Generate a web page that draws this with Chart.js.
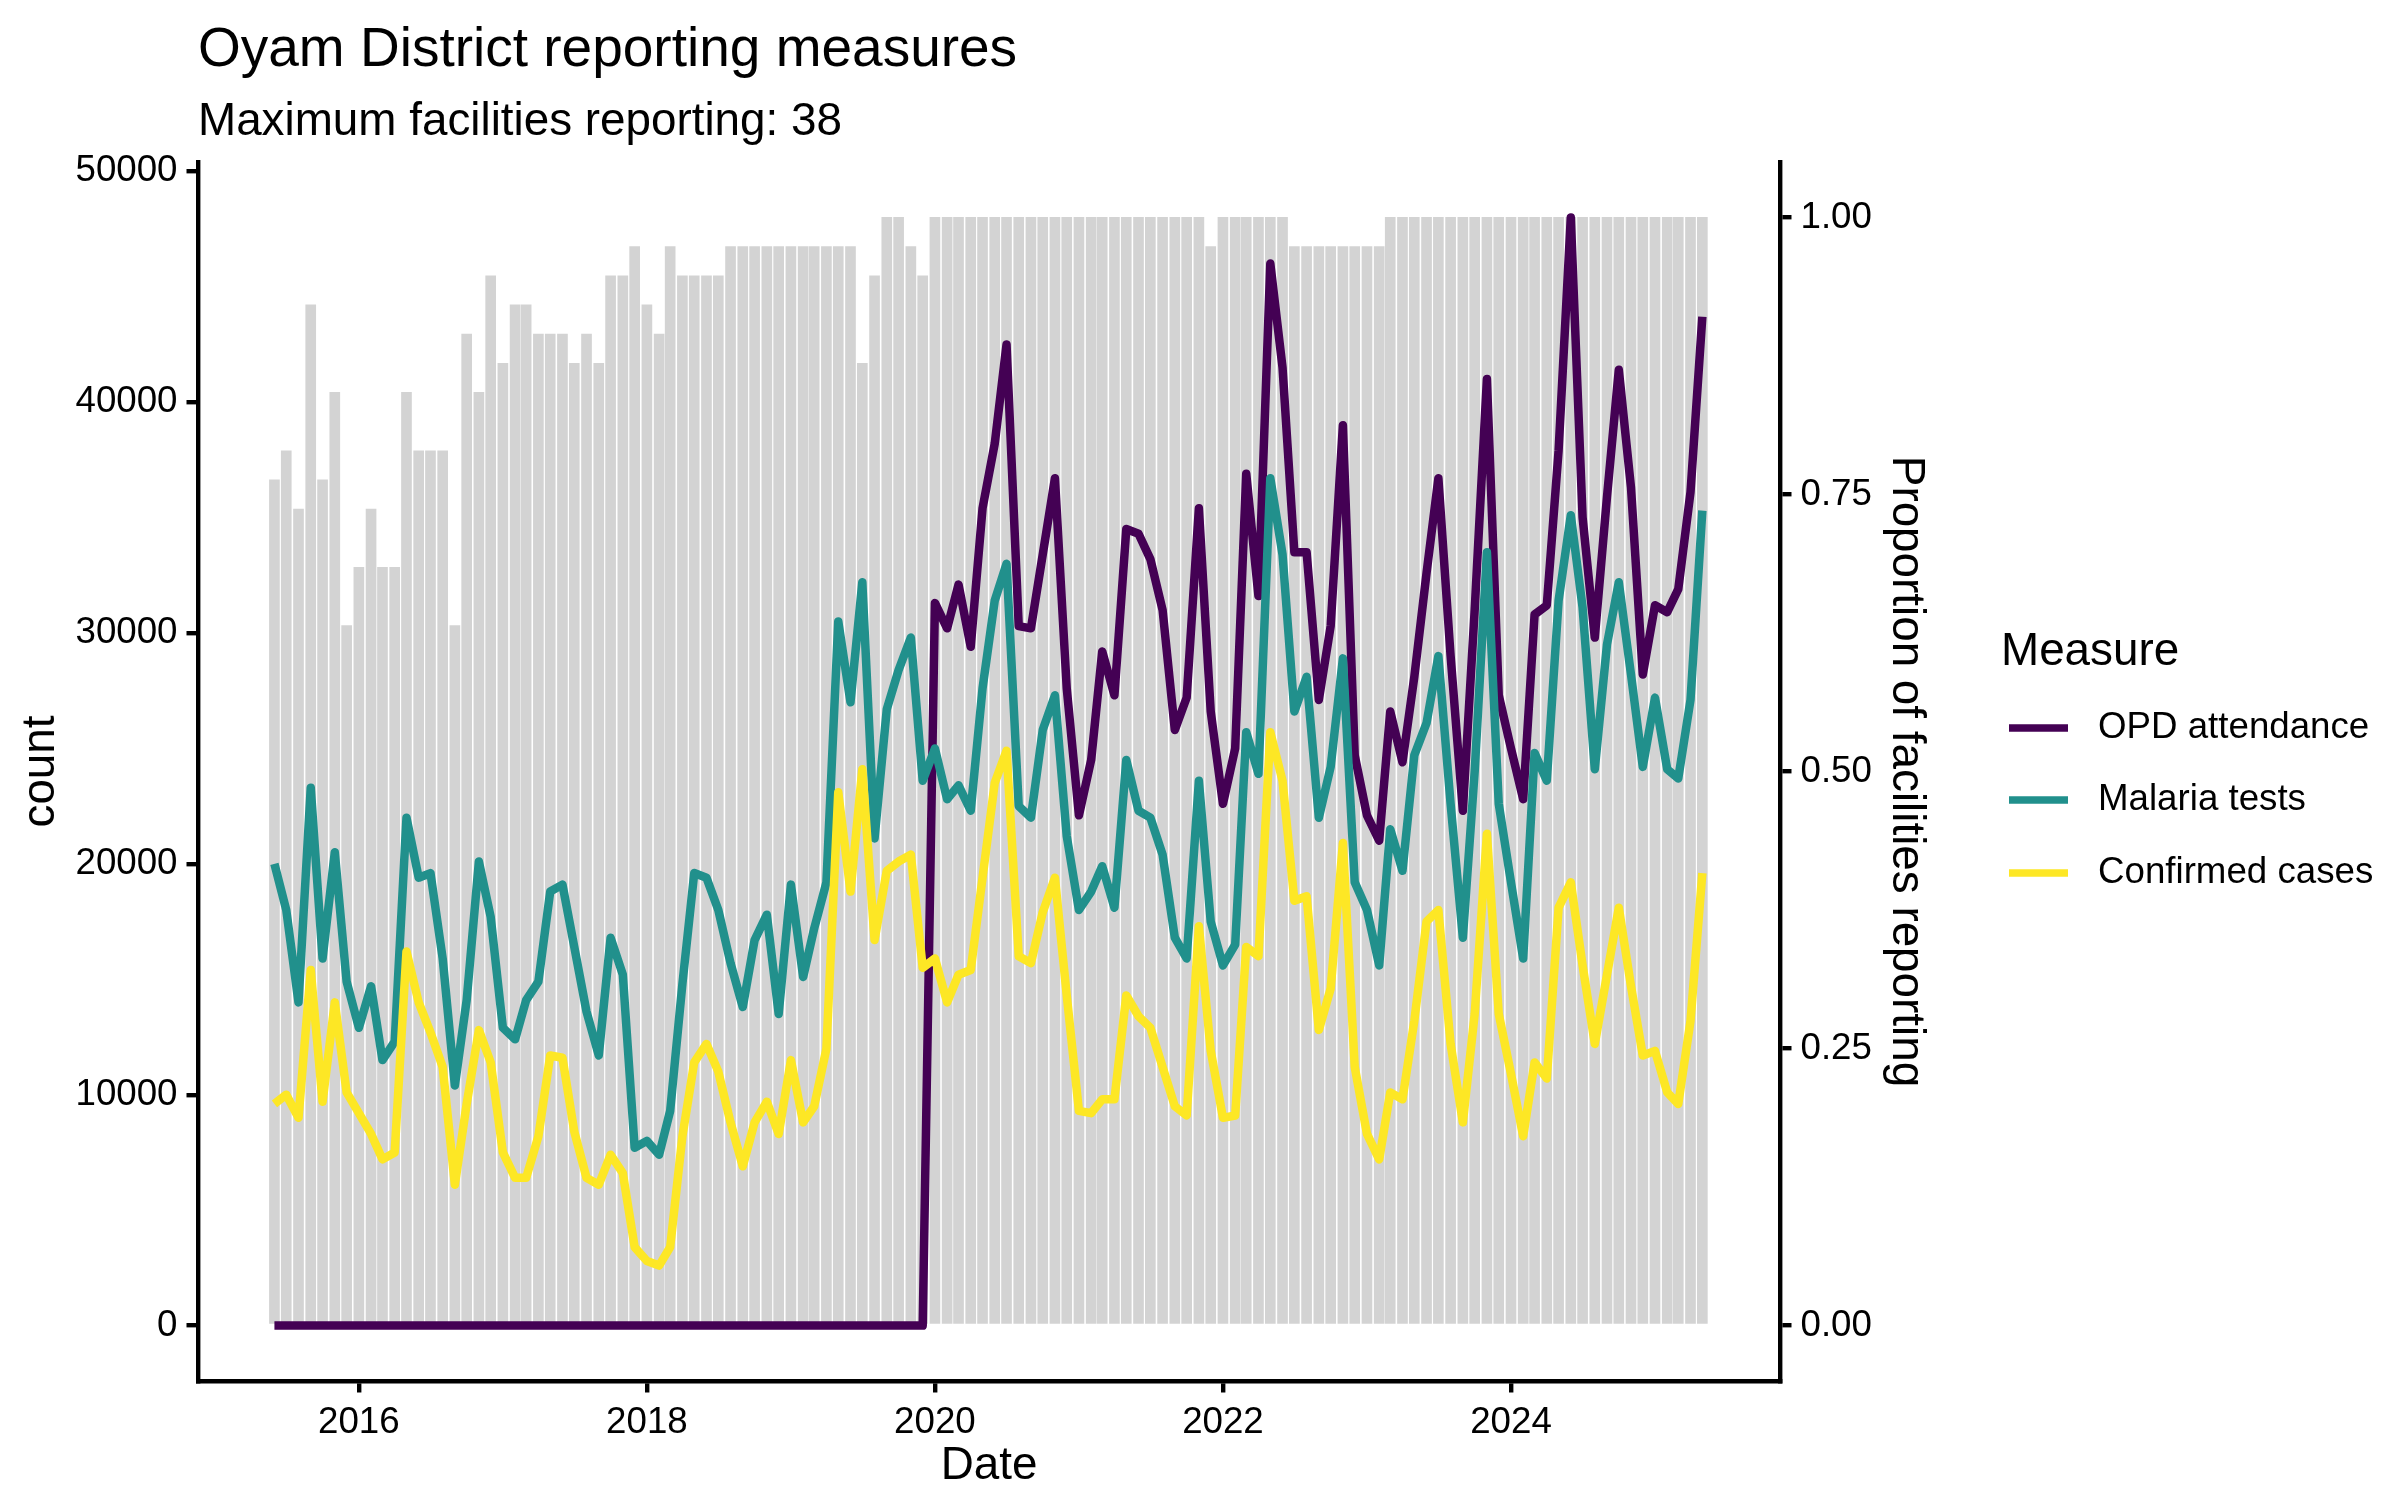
<!DOCTYPE html>
<html>
<head>
<meta charset="utf-8">
<script src="https://cdn.jsdelivr.net/npm/chart.js@4.4.1/dist/chart.umd.min.js"></script>
<style>
  html, body { margin: 0; padding: 0; background: #ffffff; }
  #wrap { width: 2400px; height: 1500px; }
</style>
</head>
<body>
<div id="wrap"><canvas id="c" width="2400" height="1500"></canvas></div>
<script>
// ---------------- data ----------------
const titleText = 'Oyam District reporting measures';
const subtitleText = 'Maximum facilities reporting: 38';
const maxFacilities = 38;
const seriesNames = ['OPD attendance', 'Malaria tests', 'Confirmed cases'];
const seriesColors = ['#440154', '#21908C', '#FDE725'];
const xTickYears = [2016, 2018, 2020, 2022, 2024];
const yTicksLeft = [0, 10000, 20000, 30000, 40000, 50000];
const yTicksRight = [0, 0.25, 0.5, 0.75, 1.0];

// months 2015-06 .. 2025-05
const firstYear = 2015, firstMonth = 6, monthCount = 120;
const months = [];
for (let i = 0; i < monthCount; i++) {
  const t = firstMonth - 1 + i;
  const y = firstYear + Math.floor(t / 12);
  const m = (t % 12) + 1;
  months.push(y + '-' + String(m).padStart(2, '0'));
}

const facilitiesReporting = [
  29,30,28,35,29,32,24,26,28,26,
  26,32,30,30,30,24,34,32,36,33,
  35,35,34,34,34,33,34,33,36,36,
  37,35,34,37,36,36,36,36,37,37,
  37,37,37,37,37,37,37,37,37,33,
  36,38,38,37,36,38,38,38,38,38,
  38,38,38,38,38,38,38,38,38,38,
  38,38,38,38,38,38,38,38,37,38,
  38,38,38,38,38,37,37,37,37,37,
  37,37,37,38,38,38,38,38,38,38,
  38,38,38,38,38,38,38,38,38,38,
  38,38,38,38,38,38,38,38,38,38
];

const opdAttendance = [
  0,0,0,0,0,0,0,0,0,0,
  0,0,0,0,0,0,0,0,0,0,
  0,0,0,0,0,0,0,0,0,0,
  0,0,0,0,0,0,0,0,0,0,
  0,0,0,0,0,0,0,0,0,0,
  0,0,0,0,0,31300,30200,32100,29400,35400,
  38200,42500,30300,30200,33400,36700,27600,22100,24500,29200,
  27300,34500,34300,33200,31000,25800,27200,35400,26600,22600,
  25000,36900,31600,46000,41500,33500,33500,27100,30300,39000,
  24700,22100,21000,26600,24400,28100,32600,36700,29000,22300,
  31000,41000,27300,25000,22800,30800,31200,37900,48000,35000,
  29800,35900,41400,36300,28200,31200,30900,31900,36100,43700
];

const malariaTests = [
  20000,18000,14000,23300,15900,20500,14900,12900,14700,11500,
  12300,22000,19400,19600,15900,10400,14100,20100,17700,12900,
  12400,14100,14900,18800,19100,16400,13600,11700,16800,15200,
  7700,8000,7400,9300,14800,19600,19400,18000,15700,13800,
  16700,17800,13500,19100,15100,17200,19200,30500,27000,32200,
  21100,26700,28400,29800,23600,25000,22800,23400,22300,27600,
  31400,33000,22500,22000,25800,27300,21200,18000,18800,19900,
  18100,24500,22300,22000,20400,16800,15900,23600,17500,15600,
  16500,25700,23900,36700,33400,26600,28100,22000,24200,28900,
  19200,18000,15600,21500,19700,24700,26100,29000,22600,16800,
  24000,33500,22600,19200,15900,24800,23600,31400,35100,31100,
  24100,29500,32200,28200,24200,27200,24100,23700,27100,35300
];

const confirmedCases = [
  9600,10000,9000,15400,9700,14000,10100,9200,8300,7200,
  7500,16200,14000,12700,11200,6100,9600,12800,11400,7500,
  6400,6400,8200,11700,11600,8400,6400,6100,7400,6600,
  3400,2800,2600,3400,8200,11400,12200,11000,8800,6900,
  8800,9700,8300,11500,8800,9500,12000,23100,18800,24100,
  16700,19700,20100,20400,15500,15900,14000,15200,15400,19400,
  23500,24900,16000,15700,17900,19400,14300,9300,9200,9800,
  9800,14300,13400,12900,11200,9500,9100,17300,11900,9000,
  9100,16400,16000,25700,23600,18400,18600,12800,14600,20900,
  11200,8300,7200,10100,9800,13200,17500,18000,12200,8800,
  13500,21300,13500,10900,8200,11400,10700,18100,19200,15600,
  12200,15200,18100,14700,11700,11900,10100,9600,13200,19600
];

// ---------------- helpers ----------------
function monthToYearFraction(s) {
  const y = +s.slice(0, 4), m = +s.slice(5, 7);
  const start = Date.UTC(y, 0, 1), end = Date.UTC(y + 1, 0, 1);
  return y + (Date.UTC(y, m - 1, 1) - start) / (end - start);
}
const xs = months.map(monthToYearFraction);
const pts = arr => arr.map((v, i) => ({ x: xs[i], y: v }));

const FONT = '"Liberation Sans", Arial, Helvetica, sans-serif';
const PLOT_LEFT = 198, PLOT_RIGHT = 1780, PLOT_TOP = 162, PLOT_BOTTOM = 1381;
const Y_MIN = -2400, Y_MAX = 50400, RATIO = 48000;
const AXIS_W = 4.4, TICK_LEN = 11.5, LINE_W = 8.5;

const axisCommon = {
  grid: { display: true, drawOnChartArea: false, drawTicks: true, tickLength: TICK_LEN,
          lineWidth: AXIS_W, tickWidth: AXIS_W, tickColor: '#000', color: '#000', offset: false },
  border: { display: true, color: '#000', width: AXIS_W },
};

const textPlugin = {
  id: 'ggtexts',
  afterDraw(chart) {
    const ctx = chart.ctx;
    const ca = chart.chartArea;
    ctx.save();
    ctx.fillStyle = '#000';
    ctx.textAlign = 'left';
    ctx.textBaseline = 'alphabetic';
    ctx.font = '55px ' + FONT;
    ctx.fillText(titleText, 198, 66);
    ctx.font = '45.8px ' + FONT;
    ctx.fillText(subtitleText, 198, 135);

    // axis titles
    ctx.textAlign = 'center';
    ctx.textBaseline = 'middle';
    ctx.font = '45.8px ' + FONT;
    ctx.fillText('Date', (ca.left + ca.right) / 2, 1466);
    const midY = (ca.top + ca.bottom) / 2;
    ctx.save();
    ctx.translate(41, midY);
    ctx.rotate(-Math.PI / 2);
    ctx.fillText('count', 0, 0);
    ctx.restore();
    ctx.save();
    ctx.translate(1906, midY);
    ctx.rotate(Math.PI / 2);
    ctx.fillText('Proportion of facilities reporting', 0, 0);
    ctx.restore();

    // legend
    ctx.textAlign = 'left';
    ctx.textBaseline = 'middle';
    ctx.font = '45.8px ' + FONT;
    ctx.fillText('Measure', 2001, 652);
    const rows = [728, 800, 873];
    ctx.font = '36.7px ' + FONT;
    seriesNames.forEach((name, i) => {
      ctx.strokeStyle = seriesColors[i];
      ctx.lineWidth = 7.5;
      ctx.lineCap = 'butt';
      ctx.beginPath();
      ctx.moveTo(2009, rows[i]);
      ctx.lineTo(2068, rows[i]);
      ctx.stroke();
      ctx.fillStyle = '#000';
      ctx.fillText(name, 2098, rows[i]);
    });
    ctx.restore();
  }
};

const lineDs = (label, data, color, order) => ({
  type: 'line', label, data: pts(data), yAxisID: 'y',
  borderColor: color, backgroundColor: color, borderWidth: LINE_W,
  pointRadius: 0, pointHoverRadius: 0, tension: 0, fill: false,
  borderJoinStyle: 'round', borderCapStyle: 'butt', order
});

new Chart(document.getElementById('c'), {
  type: 'bar',
  data: {
    datasets: [
      { type: 'bar', label: 'Proportion reporting',
        data: facilitiesReporting.map((n, i) => ({ x: xs[i], y: n / maxFacilities })),
        yAxisID: 'y1', backgroundColor: '#D3D3D3', borderWidth: 0, barThickness: 10, order: 10 },
      lineDs(seriesNames[0], opdAttendance, seriesColors[0], 3),
      lineDs(seriesNames[1], malariaTests, seriesColors[1], 2),
      lineDs(seriesNames[2], confirmedCases, seriesColors[2], 1)
    ]
  },
  options: {
    responsive: false,
    devicePixelRatio: 1,
    animation: false,
    layout: { padding: { left: 0, right: 0, top: PLOT_TOP, bottom: 0 } },
    plugins: { legend: { display: false }, tooltip: { enabled: false }, title: { display: false } },
    scales: {
      x: Object.assign({}, axisCommon, {
        type: 'linear', position: 'bottom', offset: false,
        min: 2014.883, max: 2025.868,
        afterBuildTicks: s => { s.ticks = xTickYears.map(v => ({ value: v })); },
        afterFit: s => { s.height = 1500 - PLOT_BOTTOM; },
        ticks: { color: '#000', font: { family: FONT, size: 36.7 }, padding: 8,
                 maxRotation: 0, autoSkip: false, callback: v => String(v) }
      }),
      y: Object.assign({}, axisCommon, {
        type: 'linear', position: 'left', min: Y_MIN, max: Y_MAX,
        afterBuildTicks: s => { s.ticks = yTicksLeft.map(v => ({ value: v })); },
        afterFit: s => { s.width = PLOT_LEFT; },
        ticks: { color: '#000', font: { family: FONT, size: 36.7 }, padding: 9,
                 autoSkip: false, callback: v => String(v) }
      }),
      y1: Object.assign({}, axisCommon, {
        type: 'linear', position: 'right', min: Y_MIN / RATIO, max: Y_MAX / RATIO,
        afterBuildTicks: s => { s.ticks = yTicksRight.map(v => ({ value: v })); },
        afterFit: s => { s.width = 2400 - PLOT_RIGHT; },
        ticks: { color: '#000', font: { family: FONT, size: 36.7 }, padding: 9,
                 autoSkip: false, callback: v => Number(v).toFixed(2) }
      })
    }
  },
  plugins: [textPlugin]
});
</script>
</body>
</html>
